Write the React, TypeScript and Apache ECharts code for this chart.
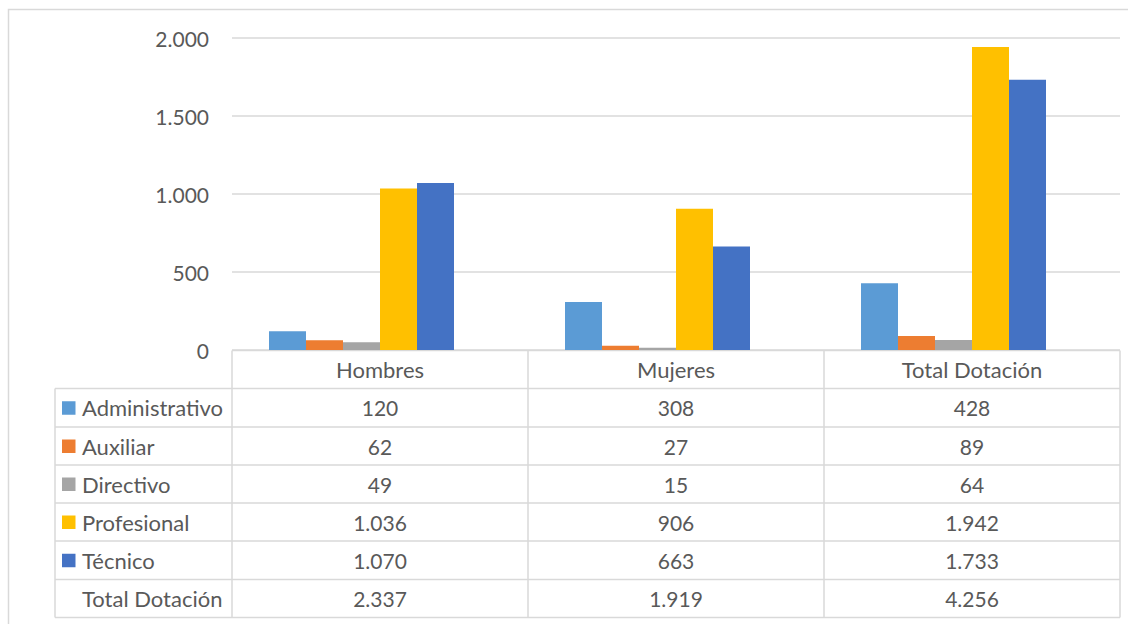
import React, { useEffect, useRef } from "react";
import * as echarts from "echarts";

const categories = ["Hombres", "Mujeres", "Total Dotación"];
const seriesNames = ["Administrativo", "Auxiliar", "Directivo", "Profesional", "Técnico"];
const administrativo = [120, 308, 428];
const auxiliar = [62, 27, 89];
const directivo = [49, 15, 64];
const profesional = [1036, 906, 1942];
const tecnico = [1070, 663, 1733];
const totalLabel = "Total Dotación";
const totalDotacion = [2337, 1919, 4256];
const yMin = 0;
const yMax = 2000;
const yInterval = 500;

const seriesValues = [administrativo, auxiliar, directivo, profesional, tecnico];
const colors = ["#5B9BD5", "#ED7D31", "#A5A5A5", "#FFC000", "#4472C4"];

const FONT = "Lato";
const TEXT = "#595959";
const LINE = "#d9d9d9";
const WORD_SIZE = 22;
const NUM_SIZE = 21;

const fmt = (n: number) => String(n).replace(/\B(?=(\d{3})+(?!\d))/g, ".");

export default function App() {
  const ref = useRef<HTMLDivElement>(null);
  useEffect(() => {
    if (!ref.current) return;
    const chart = echarts.init(ref.current, null, { renderer: "svg" });

    const plotLeft = 232;
    const plotRight = 1120;
    const barLeft = 213.5;
    const barRight = 1101.5;
    const tableLeft = 55;
    const colX = [232, 528, 824, 1120];
    const rowY = [350.5, 388.5, 427, 465, 503, 541, 579.5, 617.5];

    const g: any[] = [];
    g.push({
      type: "rect",
      shape: { x: 8.5, y: 9.5, width: 1130, height: 620 },
      style: { fill: "none", stroke: LINE, lineWidth: 1.5 },
      silent: true,
    });
    rowY.forEach((y, i) => {
      g.push({
        type: "line",
        shape: { x1: i === 0 ? plotLeft : tableLeft, y1: y, x2: plotRight, y2: y },
        style: { stroke: LINE, lineWidth: 1.5 },
        silent: true,
      });
    });
    g.push({
      type: "line",
      shape: { x1: tableLeft, y1: rowY[1], x2: tableLeft, y2: rowY[7] },
      style: { stroke: LINE, lineWidth: 1.5 },
      silent: true,
    });
    colX.forEach((x) => {
      g.push({
        type: "line",
        shape: { x1: x, y1: rowY[0], x2: x, y2: rowY[7] },
        style: { stroke: LINE, lineWidth: 1.5 },
        silent: true,
      });
    });
    const rows = seriesValues.map((vals, i) => ({ name: seriesNames[i], vals, color: colors[i] }));
    rows.push({ name: totalLabel, vals: totalDotacion, color: "" });
    rows.forEach((r, i) => {
      const cy = (rowY[i + 1] + rowY[i + 2]) / 2;
      if (r.color) {
        g.push({
          type: "rect",
          shape: { x: 62, y: cy - 6.5, width: 13.5, height: 13.5 },
          style: { fill: r.color },
          silent: true,
        });
      }
      g.push({
        type: "text",
        x: 82,
        y: cy,
        style: {
          text: r.name,
          fill: TEXT,
          font: `${WORD_SIZE}px ${FONT}`,
          align: "left",
          verticalAlign: "middle",
        },
        silent: true,
      });
      r.vals.forEach((v, j) => {
        g.push({
          type: "text",
          x: (colX[j] + colX[j + 1]) / 2,
          y: cy,
          style: {
            text: fmt(v),
            fill: TEXT,
            font: `${NUM_SIZE}px ${FONT}`,
            align: "center",
            verticalAlign: "middle",
          },
          silent: true,
        });
      });
    });

    chart.setOption({
      animation: false,
      backgroundColor: "#ffffff",
      grid: [
        { left: plotLeft, right: 1128 - plotRight, top: 38, bottom: 624 - 350, containLabel: false },
        { left: barLeft, right: 1128 - barRight, top: 38, bottom: 624 - 350, containLabel: false },
      ],
      xAxis: [
        {
          type: "category",
          gridIndex: 0,
          data: categories,
          axisLine: { show: false },
          axisTick: { show: false },
          axisLabel: {
            color: TEXT,
            fontFamily: FONT,
            fontSize: WORD_SIZE,
            margin: 19,
            verticalAlign: "middle",
          },
        },
        {
          type: "category",
          gridIndex: 1,
          data: categories,
          show: false,
        },
      ],
      yAxis: [
        {
          type: "value",
          gridIndex: 0,
          min: yMin,
          max: yMax,
          interval: yInterval,
          axisLine: { show: false },
          axisTick: { show: false },
          splitLine: { lineStyle: { color: LINE, width: 1.5 } },
          axisLabel: {
            color: TEXT,
            fontFamily: FONT,
            fontSize: NUM_SIZE,
            margin: 23,
            formatter: (v: number) => fmt(v),
          },
        },
        {
          type: "value",
          gridIndex: 1,
          min: yMin,
          max: yMax,
          interval: yInterval,
          show: false,
          splitLine: { show: false },
        },
      ],
      series: seriesValues.map((vals, i) => ({
        type: "bar",
        name: seriesNames[i],
        data: vals,
        xAxisIndex: 1,
        yAxisIndex: 1,
        barWidth: 37,
        barGap: "0%",
        itemStyle: { color: colors[i] },
      })),
      graphic: g,
    });
    return () => chart.dispose();
  }, []);
  return (
    <div
      ref={ref}
      style={{ position: "fixed", left: 0, top: 0, width: 1128, height: 624 }}
    />
  );
}
